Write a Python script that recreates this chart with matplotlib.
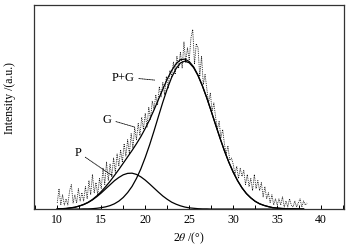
import matplotlib
matplotlib.use("Agg")
import matplotlib.pyplot as plt
from matplotlib.ticker import MultipleLocator

plt.rcParams["font.family"] = ["Liberation Serif", "DejaVu Serif"]
plt.rcParams["mathtext.fontset"] = "stix"

# 拟合曲线 (步长 0.5°)
fit_x = [10, 10.5, 11, 11.5, 12, 12.5, 13, 13.5, 14, 14.5,
         15, 15.5, 16, 16.5, 17, 17.5, 18, 18.5, 19, 19.5,
         20, 20.5, 21, 21.5, 22, 22.5, 23, 23.5, 24, 24.5,
         25, 25.5, 26, 26.5, 27, 27.5, 28, 28.5, 29, 29.5,
         30, 30.5, 31, 31.5, 32, 32.5, 33, 33.5, 34, 34.5,
         35, 35.5, 36, 36.5, 37, 37.5, 38]

p_curve = [0.001, 0.002, 0.003, 0.006, 0.009, 0.015, 0.022, 0.032, 0.045, 0.061,
           0.079, 0.099, 0.119, 0.139, 0.155, 0.168, 0.175, 0.176, 0.170, 0.158,
           0.142, 0.123, 0.103, 0.083, 0.064, 0.048, 0.034, 0.024, 0.016, 0.010,
           0.006, 0.004, 0.002, 0.001, 0.001, 0, 0, 0, 0, 0,
           0, 0, 0, 0, 0, 0, 0, 0, 0, 0,
           0, 0, 0, 0, 0, 0, 0]

g_curve = [0, 0, 0, 0, 0, 0, 0.001, 0.001, 0.002, 0.004,
           0.007, 0.011, 0.017, 0.026, 0.039, 0.057, 0.081, 0.111, 0.150, 0.197,
           0.253, 0.315, 0.383, 0.454, 0.524, 0.589, 0.645, 0.688, 0.716, 0.725,
           0.717, 0.693, 0.654, 0.603, 0.544, 0.480, 0.413, 0.348, 0.286, 0.230,
           0.181, 0.139, 0.104, 0.076, 0.055, 0.038, 0.026, 0.018, 0.012, 0.007,
           0.005, 0.003, 0.002, 0.001, 0.001, 0, 0]

pg_curve = [0.001, 0.002, 0.003, 0.006, 0.009, 0.015, 0.023, 0.033, 0.047, 0.065,
            0.086, 0.110, 0.136, 0.165, 0.194, 0.225, 0.256, 0.287, 0.320, 0.355,
            0.395, 0.438, 0.486, 0.537, 0.588, 0.637, 0.679, 0.712, 0.732, 0.735,
            0.723, 0.697, 0.656, 0.604, 0.545, 0.480, 0.413, 0.348, 0.286, 0.230,
            0.181, 0.139, 0.104, 0.076, 0.055, 0.038, 0.026, 0.018, 0.012, 0.007,
            0.005, 0.003, 0.002, 0.001, 0.001, 0, 0]

# 实测数据 (10° ~ 38.4°, 步长 0.2°)
meas_start = 10.0
meas_step = 0.2
meas_y = [
    0.03, 0.10, 0.02, 0.07, 0.02,
    0.05, 0.02, 0.09, 0.12, 0.03,
    0.07, 0.03, 0.10, 0.04, 0.08,
    0.04, 0.11, 0.05, 0.14, 0.07,
    0.17, 0.08, 0.13, 0.07, 0.15,
    0.10, 0.20, 0.12, 0.23, 0.14,
    0.22, 0.16, 0.25, 0.18, 0.27,
    0.21, 0.29, 0.23, 0.32, 0.26,
    0.34, 0.27, 0.37, 0.30, 0.40,
    0.34, 0.42, 0.36, 0.45, 0.39,
    0.47, 0.40, 0.50, 0.44, 0.53,
    0.49, 0.56, 0.51, 0.60, 0.55,
    0.62, 0.56, 0.65, 0.59, 0.68,
    0.65, 0.72, 0.66, 0.75, 0.69,
    0.77, 0.69, 0.82, 0.72, 0.79,
    0.73, 0.84, 0.88, 0.71, 0.81,
    0.79, 0.65, 0.75, 0.61, 0.66,
    0.59, 0.52, 0.57, 0.48, 0.52,
    0.45, 0.39, 0.43, 0.35, 0.39,
    0.32, 0.27, 0.31, 0.24, 0.25,
    0.22, 0.17, 0.21, 0.15, 0.20,
    0.16, 0.19, 0.12, 0.17, 0.11,
    0.15, 0.09, 0.17, 0.10, 0.14,
    0.09, 0.13, 0.06, 0.11, 0.05,
    0.08, 0.03, 0.07, 0.02, 0.05,
    0.02, 0.05, 0.02, 0.06, 0.01,
    0.04, 0.01, 0.05, 0.02, 0.01,
    0.04, 0.01, 0.03, 0.05, 0.01,
    0.04, 0.02, 0.03,
]
meas_x = [meas_start + i * meas_step for i in range(len(meas_y))]

# 标注
labels = ["P+G", "G", "P"]
label_xy = [(17.5, 0.647), (15.7, 0.441), (12.35, 0.279)]
label_tip = [(21.1, 0.632), (18.8, 0.402), (16.3, 0.162)]

fig = plt.figure(figsize=(3.5, 2.51), dpi=100)
ax = fig.add_axes([0.097, 0.163, 0.886, 0.813])

ax.plot(meas_x, meas_y, color="black", linestyle=(0, (1, 1.2)), linewidth=0.6)
ax.plot(fit_x, p_curve, color="black", linewidth=0.9)
ax.plot(fit_x, g_curve, color="black", linewidth=0.9)
ax.plot(fit_x, pg_curve, color="black", linewidth=0.9)

for name, xy, tip in zip(labels, label_xy, label_tip):
    ax.annotate(
        name,
        xy=tip,
        xytext=xy,
        ha="center",
        va="center",
        fontsize=9,
        arrowprops=dict(arrowstyle="-", linestyle=(0, (1, 1)),
                        linewidth=0.6, color="black", shrinkA=1, shrinkB=0),
    )

ax.set_xlim(7.35, 42.6)
ax.set_ylim(0, 1.0)
ax.xaxis.set_major_locator(MultipleLocator(5))
ax.xaxis.set_minor_locator(MultipleLocator(2.5))
ax.set_xticks([10, 15, 20, 25, 30, 35, 40])
ax.set_yticks([])
ax.tick_params(axis="x", which="both", direction="in", length=3,
               width=0.7, labelsize=8.5, pad=3)
for s in ax.spines.values():
    s.set_color("#333333")
    s.set_linewidth(0.9)

ax.set_xlabel(r"2$\theta$ /(°)", fontsize=8.5, labelpad=3)
ax.set_ylabel("Intensity /(a.u.)", fontsize=8.5)
ax.yaxis.set_label_coords(-0.058, 0.55)

plt.savefig("out.png", dpi=100)
